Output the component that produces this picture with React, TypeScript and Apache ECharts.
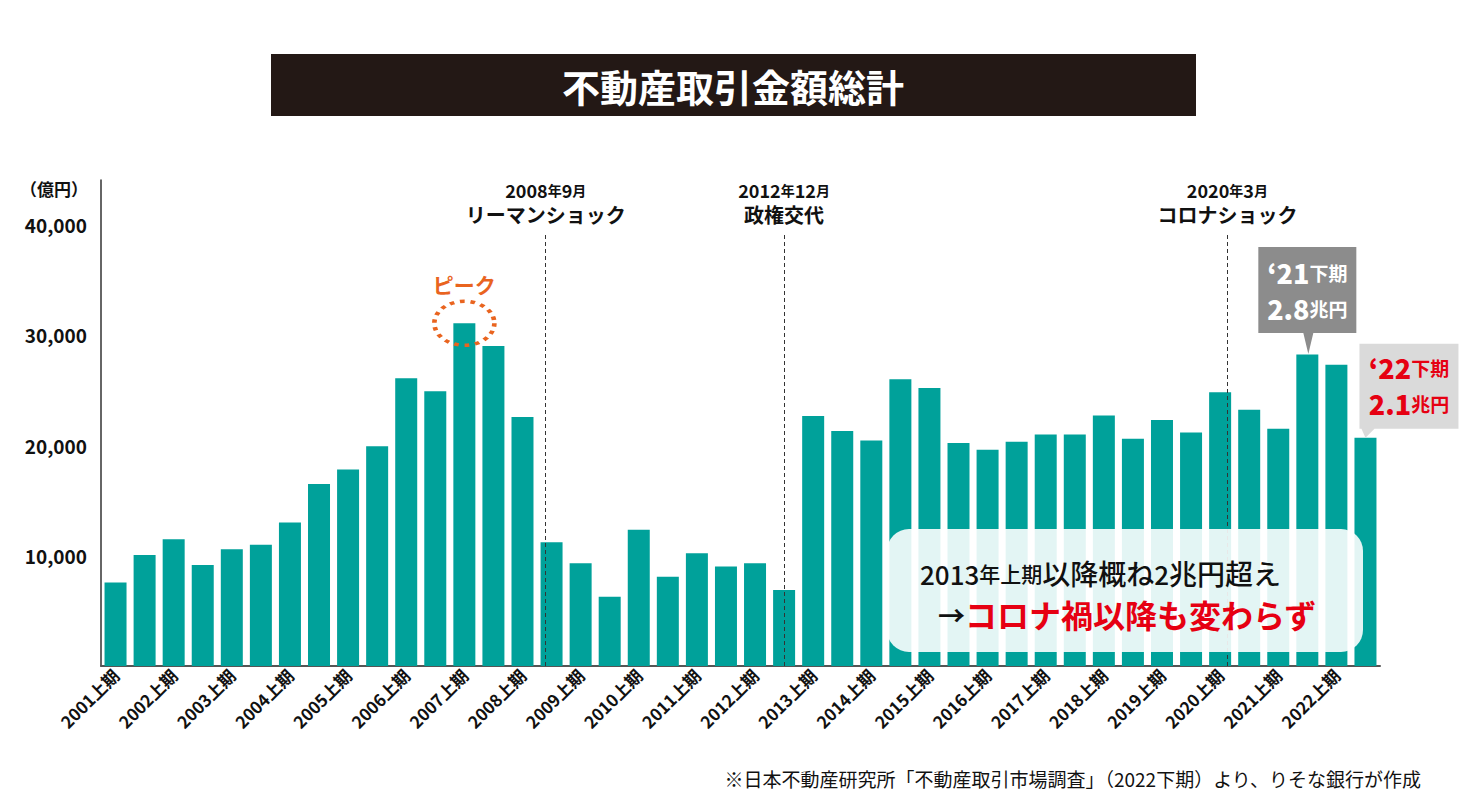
import React, { useEffect, useRef } from "react";
import * as echarts from "echarts";

const years = ["2001","2002","2003","2004","2005","2006","2007","2008","2009","2010","2011","2012","2013","2014","2015","2016","2017","2018","2019","2020","2021","2022"];
const halves = ["上期", "下期"];
const categories: string[] = [];
years.forEach((y) => halves.forEach((h) => categories.push(y + h)));

// 不動産取引金額（億円）
const values = [
  7570, 10060, 11480, 9150, 10580, 10970, 13000, 16480, 17790, 19900,
  26060, 24880, 31030, 28970, 22550, 11210, 9300, 6270, 12330, 8090,
  10210, 9000, 9300, 6880, 22640, 21270, 20420, 25970, 25180, 20180,
  19580, 20300, 20970, 20970, 22670, 20580, 22270, 21150, 24790, 23210,
  21480, 28210, 27270, 20660,
];

const yTicks = [0, 10000, 20000, 30000, 40000];

// event lines, position in half-year units from 2001上期 start
const eventPositions = [15.3, 23.5, 38.75];
const eventYear = ["2008", "2012", "2020"];
const eventMonth = ["9", "12", "3"];
const eventNames = ["リーマンショック", "政権交代", "コロナショック"];

const FONT = "'Noto Sans CJK JP', 'Noto Sans', sans-serif";
const TEAL = "#00a19a";
const ORANGE = "#e9641f";
const RED = "#e60012";

export default function App() {
  const ref = useRef<HTMLDivElement>(null);
  useEffect(() => {
    if (!ref.current) return;
    const chart = echarts.init(ref.current, null, { renderer: "svg" });
    const peakIdx = values.indexOf(Math.max(...values));
    const idx21 = categories.indexOf("2021下期");
    const idx22 = categories.indexOf("2022下期");

    const markLineData = eventPositions.map((p, i) => [
      {
        coord: [p, 0],
        label: {
          formatter: `{a|${eventYear[i]}}{k|年}{a|${eventMonth[i]}}{k|月}\n{b|${eventNames[i]}}`,
        },
      },
      { coord: [p, 39200] },
    ]);

    chart.setOption({
      animation: false,
      textStyle: { fontFamily: FONT },
      grid: { left: 101, right: 88, top: 180, bottom: 134 },
      xAxis: [
        {
          type: "category",
          data: categories,
          axisLine: { lineStyle: { color: "#555", width: 2 } },
          axisTick: { show: false },
          axisLabel: {
            interval: 1,
            rotate: 45,
            fontSize: 17,
            fontWeight: "bold",
            color: "#111",
            margin: 6,
            fontFamily: FONT,
          },
        },
        { type: "value", min: 0, max: 44, show: false },
      ],
      yAxis: {
        type: "value",
        min: yTicks[0],
        max: 44000,
        interval: yTicks[1] - yTicks[0],
        splitLine: { show: false },
        axisLine: { show: true, lineStyle: { color: "#333", width: 1.5 } },
        axisTick: { show: false },
        axisLabel: {
          showMinLabel: false,
          showMaxLabel: false,
          fontSize: 19,
          fontWeight: "bold",
          color: "#111",
          margin: 14,
          fontFamily: FONT,
          formatter: (v: number) => v.toLocaleString("en-US"),
        },
      },
      graphic: [
        {
          type: "rect",
          shape: { x: 271, y: 54, width: 925, height: 62 },
          style: { fill: "#231815" },
        },
        {
          type: "text",
          x: 733,
          y: 85,
          style: {
            text: "不動産取引金額総計",
            fill: "#fff",
            font: `bold 38px ${FONT}`,
            textAlign: "center",
            textVerticalAlign: "middle",
          },
        },
        {
          type: "text",
          x: 20,
          y: 188,
          style: {
            text: "（億円）",
            fill: "#111",
            font: `bold 17px ${FONT}`,
            textVerticalAlign: "middle",
          },
        },
        {
          type: "rect",
          z: 10,
          shape: { x: 887, y: 529, width: 476, height: 123, r: 22 },
          style: { fill: "rgba(255,255,255,0.89)" },
        },
        {
          type: "text",
          z: 11,
          x: 920,
          y: 573,
          style: {
            text: "{d|2013}{s|年上期}{n|以降概ね}{d|2}{n|兆円超え}",
            textVerticalAlign: "middle",
            rich: {
              d: { fontSize: 26, fontWeight: 500, fill: "#111", fontFamily: FONT },
              n: { fontSize: 28, fontWeight: 500, fill: "#111", fontFamily: FONT },
              s: { fontSize: 21, fontWeight: 500, fill: "#111", fontFamily: FONT },
            },
          },
        },
        {
          type: "text",
          z: 11,
          x: 938,
          y: 614,
          style: {
            text: "{a|→}{r|コロナ禍以降も変わらず}",
            textVerticalAlign: "middle",
            rich: {
              a: { fontSize: 27, fontWeight: "bold", fill: "#111", fontFamily: FONT },
              r: { fontSize: 32, fontWeight: "bold", fill: RED, fontFamily: FONT },
            },
          },
        },
        {
          type: "text",
          x: 1421,
          y: 778,
          style: {
            text: "※日本不動産研究所「不動産取引市場調査」（2022下期）より、りそな銀行が作成",
            fill: "#111",
            font: `19px ${FONT}`,
            textAlign: "right",
            textVerticalAlign: "middle",
          },
        },
      ],
      series: [
        {
          type: "bar",
          data: values,
          barWidth: 22,
          itemStyle: { color: TEAL },
          markPoint: {
            silent: true,
            data: [
              {
                coord: [categories[peakIdx], values[peakIdx]],
                symbol: "circle",
                symbolSize: [60, 44],
                itemStyle: {
                  color: "rgba(0,0,0,0)",
                  borderColor: ORANGE,
                  borderWidth: 4,
                  borderType: [4, 5],
                },
                label: {
                  show: true,
                  position: "top",
                  distance: 5,
                  formatter: "ピーク",
                  color: ORANGE,
                  fontSize: 21,
                  fontWeight: "bold",
                  fontFamily: FONT,
                },
              },
              {
                coord: [categories[idx21], values[idx21]],
                symbol: "path://M0,0 H98 V86 H55 L50,107 L45,86 H0 Z",
                symbolSize: [98, 107],
                symbolOffset: [0, -54],
                itemStyle: { color: "#8c8c8c" },
                label: {
                  show: true,
                  position: "inside",
                  offset: [0, -10],
                  formatter: "{q|‘21}{s|下期}\n{q|2.8}{s|兆円}",
                  rich: {
                    q: { fontSize: 27, fontWeight: 900, color: "#fff", lineHeight: 36, fontFamily: FONT },
                    s: { fontSize: 19, fontWeight: "bold", color: "#fff", lineHeight: 36, fontFamily: FONT },
                  },
                },
              },
              {
                coord: [categories[idx22], values[idx22]],
                symbol: "path://M0,0 H99 V85 H15 L6,94 L2,85 H0 Z",
                symbolSize: [99, 94],
                symbolOffset: [43.5, -47],
                itemStyle: { color: "#dadada" },
                label: {
                  show: true,
                  position: "inside",
                  offset: [0, -5],
                  formatter: "{q|‘22}{s|下期}\n{q|2.1}{s|兆円}",
                  rich: {
                    q: { fontSize: 27, fontWeight: 900, color: RED, lineHeight: 36, fontFamily: FONT },
                    s: { fontSize: 19, fontWeight: "bold", color: RED, lineHeight: 36, fontFamily: FONT },
                  },
                },
              },
            ],
          },
        },
        {
          type: "line",
          xAxisIndex: 1,
          data: [],
          symbol: "none",
          markLine: {
            silent: true,
            symbol: "none",
            lineStyle: { color: "#333", type: [4, 3], width: 1 },
            label: {
              show: true,
              position: "end",
              distance: 6,
              color: "#111",
              rich: {
                a: { fontSize: 18, fontWeight: "bold", color: "#111", lineHeight: 25, fontFamily: FONT },
                k: { fontSize: 14, fontWeight: "bold", color: "#111", lineHeight: 25, fontFamily: FONT },
                b: { fontSize: 20, fontWeight: "bold", color: "#111", lineHeight: 25, fontFamily: FONT },
              },
            },
            data: markLineData,
          },
        },
      ],
    });
    return () => chart.dispose();
  }, []);
  return (
    <div
      ref={ref}
      style={{ position: "fixed", left: 0, top: 0, width: 1468, height: 800, background: "#fff" }}
    />
  );
}
